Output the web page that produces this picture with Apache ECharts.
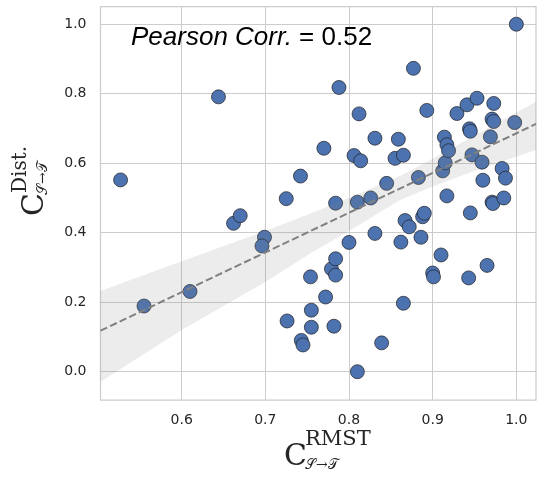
<!DOCTYPE html>
<html><head><meta charset="utf-8">
<script src="https://cdn.jsdelivr.net/npm/echarts@6/dist/echarts.min.js"></script>
<style>html,body{margin:0;padding:0;background:#fff}#c{width:541px;height:479px}</style>
</head><body><div id="c"></div>
<script>
// C^RMST (x) and C^Dist. (y) per pair
const xVals = [1.000,0.527,0.555,0.610,0.644,0.662,0.670,0.699,0.696,0.725,0.742,0.726,0.743,0.745,0.754,0.755,0.755,0.770,0.772,0.779,0.784,0.784,0.782,0.784,0.788,0.800,0.806,0.812,0.814,0.810,0.810,0.826,0.831,0.831,0.839,0.845,0.855,0.859,0.862,0.865,0.867,0.865,0.872,0.877,0.883,0.886,0.888,0.890,0.893,0.900,0.901,0.910,0.912,0.914,0.915,0.917,0.919,0.917,0.929,0.941,0.944,0.945,0.945,0.943,0.947,0.953,0.959,0.960,0.965,0.971,0.972,0.969,0.971,0.973,0.973,0.983,0.985,0.987,0.998];
const yVals = [1.000,0.552,0.189,0.231,0.791,0.427,0.449,0.387,0.362,0.498,0.563,0.146,0.090,0.077,0.273,0.177,0.128,0.643,0.215,0.296,0.325,0.278,0.131,0.485,0.818,0.372,0.622,0.742,0.607,0.488,0.000,0.500,0.672,0.398,0.083,0.542,0.614,0.669,0.373,0.623,0.435,0.197,0.417,0.873,0.559,0.387,0.446,0.456,0.752,0.284,0.273,0.336,0.578,0.675,0.601,0.653,0.636,0.506,0.743,0.768,0.699,0.692,0.457,0.270,0.624,0.787,0.603,0.551,0.306,0.488,0.484,0.676,0.727,0.720,0.772,0.585,0.500,0.557,0.717];
// regression line and its confidence band
const fitX  = [0.503, 1.0235];
const fitY  = [0.118, 0.713];
const bandX  = [0.503, 0.600, 0.700, 0.754, 0.800, 0.861, 0.897, 0.950, 1.0235];
const bandLo = [-0.029, 0.120, 0.258, 0.341, 0.405, 0.494, 0.530, 0.578, 0.638];
const bandHi = [0.232, 0.318, 0.405, 0.455, 0.500, 0.563, 0.609, 0.680, 0.777];
const xTicks = [0.6,0.7,0.8,0.9,1.0];
const yTicks = [0.0,0.2,0.4,0.6,0.8,1.0];
const corrText = '0.52';

const X_MIN = 0.503, X_MAX = 1.0235, Y_MIN = -0.0814, Y_MAX = 1.051;

const chart = echarts.init(document.getElementById('c'), null, {renderer:'canvas'});
const labelStyle = {fontFamily:'DejaVu Sans', fontSize:14, color:'#262626'};
chart.setOption({
  animation:false,
  grid:{left:100.5, right:5, top:6.5, bottom:79, show:true, borderColor:'#cccccc', borderWidth:1.25, backgroundColor:'#fff'},
  xAxis:{type:'value', min:X_MIN, max:X_MAX,
    axisLine:{show:false}, axisTick:{show:false, customValues:xTicks},
    axisLabel:Object.assign({customValues:xTicks, margin:13, formatter:v=>v.toFixed(1)}, labelStyle),
    splitLine:{show:true, lineStyle:{color:'#cccccc', width:1}}},
  yAxis:{type:'value', min:Y_MIN, max:Y_MAX,
    axisLine:{show:false}, axisTick:{show:false, customValues:yTicks},
    axisLabel:Object.assign({customValues:yTicks, margin:14, formatter:v=>v.toFixed(1)}, labelStyle),
    splitLine:{show:true, lineStyle:{color:'#cccccc', width:1}}},
  series:[
    {type:'scatter', z:2, data:xVals.map((x,i)=>[x,yVals[i]]), symbolSize:14,
      itemStyle:{color:'#4C72B0', borderColor:'#1f1f1f', borderWidth:0.7, opacity:1}},
    {type:'custom', z:3, data:[0], clip:true,
      renderItem:(params, api)=>{
        const pts=[];
        for (let k=0;k<bandX.length;k++) pts.push(api.coord([bandX[k], bandHi[k]]));
        for (let k=bandX.length-1;k>=0;k--) pts.push(api.coord([bandX[k], bandLo[k]]));
        return {type:'polygon', shape:{points:pts}, style:{fill:'rgba(128,128,128,0.15)'}};
      }},
    {type:'line', z:4, data:fitX.map((x,i)=>[x,fitY[i]]), symbol:'none',
      lineStyle:{color:'#808080', width:2, type:[7.4,3.2]}}
  ],
  graphic:[
    {type:'text', left:131, top:25, z:10, style:{rich:{
        i:{fontFamily:'Liberation Sans', fontStyle:'italic', fontSize:26, fill:'#000'},
        n:{fontFamily:'Liberation Sans', fontSize:26, fill:'#000'}},
      text:'{i|Pearson Corr.}{n| = '+corrText+'}'}},
    // x-axis label
    {type:'group', left:284, top:429, children:[
      {type:'text', x:0, y:13, style:{text:'C', font:'30px "DejaVu Serif"', fill:'#262626'}},
      {type:'text', x:21, y:0, style:{text:'RMST', font:'21px "DejaVu Serif"', fill:'#262626'}},
      {type:'text', x:21, y:29, style:{text:'\u{1D4AE}\u2192\u{1D4AF}', font:'14px "DejaVu Serif"', fill:'#262626'}}
    ]},
    // y-axis label (rotated)
    {type:'group', rotation:Math.PI/2, x:10, y:216, children:[
      {type:'text', x:0, y:10, style:{text:'C', font:'30px "DejaVu Serif"', fill:'#262626'}},
      {type:'text', x:23, y:1, style:{text:'Dist.', font:'20px "DejaVu Serif"', fill:'#262626'}},
      {type:'text', x:21, y:26, style:{text:'\u{1D4AE}\u2192\u{1D4AF}', font:'14px "DejaVu Serif"', fill:'#262626'}}
    ]}
  ]
});
</script></body></html>
